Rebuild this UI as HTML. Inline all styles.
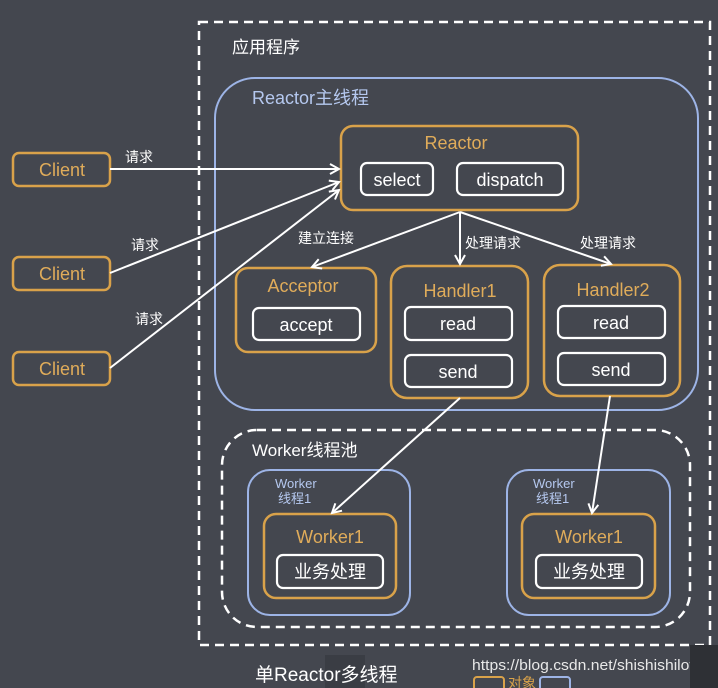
<!DOCTYPE html>
<html><head><meta charset="utf-8"><style>
body{margin:0;background:#44474f;}
svg{display:block}
text{font-family:"Liberation Sans","Noto Sans CJK SC",sans-serif;}
</style></head><body>
<svg width="718" height="688" viewBox="0 0 718 688" xmlns="http://www.w3.org/2000/svg">
<defs><marker id="a" markerWidth="12" markerHeight="12" refX="10" refY="6" orient="auto" markerUnits="userSpaceOnUse"><path d="M1,1 L10,6 L1,11" fill="none" stroke="#fff" stroke-width="2"/></marker></defs>
<rect width="718" height="688" fill="#44474f"/>
<rect x="199" y="22" width="511" height="623" fill="none" stroke="#fff" stroke-width="2.5" stroke-dasharray="9,6"/>
<text x="232" y="53" fill="#fff" font-size="17">应用程序</text>
<rect x="215" y="78" width="483" height="332" rx="40" fill="none" stroke="#9db4e6" stroke-width="2"/>
<text x="252" y="104" fill="#b5c8ef" font-size="18">Reactor主线程</text>
<g fill="none" stroke="#d9a24a" stroke-width="2.5">
<rect x="341" y="126" width="237" height="84" rx="12"/>
<rect x="236" y="268" width="140" height="84" rx="12"/>
<rect x="391" y="266" width="137" height="132" rx="16"/>
<rect x="544" y="265" width="136" height="131" rx="16"/>
<rect x="13" y="153" width="97" height="33" rx="6"/>
<rect x="13" y="257" width="97" height="33" rx="6"/>
<rect x="13" y="352" width="97" height="33" rx="6"/>
<rect x="264" y="514" width="132" height="84" rx="12"/>
<rect x="522" y="514" width="133" height="84" rx="12"/>
</g>
<g fill="none" stroke="#fff" stroke-width="2.2">
<rect x="361" y="163" width="72" height="32" rx="6"/>
<rect x="457" y="163" width="106" height="32" rx="6"/>
<rect x="253" y="308" width="107" height="32" rx="6"/>
<rect x="405" y="307" width="107" height="33" rx="6"/>
<rect x="405" y="355" width="107" height="32" rx="6"/>
<rect x="558" y="306" width="107" height="32" rx="6"/>
<rect x="558" y="353" width="107" height="32" rx="6"/>
<rect x="277" y="555" width="106" height="33" rx="6"/>
<rect x="536" y="555" width="106" height="33" rx="6"/>
</g>
<rect x="222" y="430" width="468" height="197" rx="35" fill="none" stroke="#fff" stroke-width="2.5" stroke-dasharray="9,6"/>
<text x="252" y="456" fill="#fff" font-size="17">Worker线程池</text>
<g fill="none" stroke="#9db4e6" stroke-width="2">
<rect x="248" y="470" width="162" height="145" rx="22"/>
<rect x="507" y="470" width="163" height="145" rx="22"/>
</g>
<g fill="#b5c8ef" font-size="13"><text x="275" y="488">Worker</text><text x="278" y="503">线程1</text><text x="533" y="488">Worker</text><text x="536" y="503">线程1</text></g>
<g fill="#e0ac5a" font-size="18" text-anchor="middle">
<text x="456" y="149">Reactor</text>
<text x="303" y="292">Acceptor</text>
<text x="460" y="297">Handler1</text>
<text x="613" y="296">Handler2</text>
<text x="62" y="176">Client</text>
<text x="62" y="280">Client</text>
<text x="62" y="375">Client</text>
<text x="330" y="543">Worker1</text>
<text x="589" y="543">Worker1</text>
</g>
<g fill="#fff" font-size="18" text-anchor="middle">
<text x="397" y="186">select</text>
<text x="510" y="186">dispatch</text>
<text x="306" y="331">accept</text>
<text x="458" y="330">read</text>
<text x="458" y="378">send</text>
<text x="611" y="329">read</text>
<text x="611" y="376">send</text>
<text x="330" y="578">业务处理</text>
<text x="589" y="578">业务处理</text>
</g>
<g stroke="#fff" stroke-width="2" marker-end="url(#a)">
<line x1="110" y1="169" x2="339" y2="169"/>
<line x1="110" y1="273" x2="339" y2="182"/>
<line x1="110" y1="368" x2="339" y2="190"/>
<line x1="460" y1="212" x2="312" y2="267"/>
<line x1="460" y1="212" x2="460" y2="264"/>
<line x1="460" y1="212" x2="611" y2="264"/>
<line x1="460" y1="398" x2="332" y2="513"/>
<line x1="610" y1="396" x2="592" y2="513"/>
</g>
<g fill="#fff" font-size="14">
<text x="125" y="162">请求</text>
<text x="131" y="250">请求</text>
<text x="135" y="324">请求</text>
<text x="298" y="243">建立连接</text>
<text x="465" y="248">处理请求</text>
<text x="580" y="248">处理请求</text>
</g>
<rect x="325" y="655" width="40" height="33" fill="#3a3d44"/>
<text x="255" y="681" fill="#fff" font-size="19">单Reactor多线程</text>
<text x="472" y="670" fill="#e8e8e8" font-size="15" textLength="234" lengthAdjust="spacingAndGlyphs">https://blog.csdn.net/shishishilove</text>
<rect x="474" y="677" width="30" height="14" rx="3" fill="none" stroke="#d9a24a" stroke-width="2"/>
<text x="508" y="688" fill="#d9a24a" font-size="14">对象</text>
<rect x="540" y="677" width="30" height="14" rx="3" fill="none" stroke="#9db4e6" stroke-width="2"/>
<rect x="690" y="645" width="28" height="43" fill="#2e3035"/>
</svg>
</body></html>
